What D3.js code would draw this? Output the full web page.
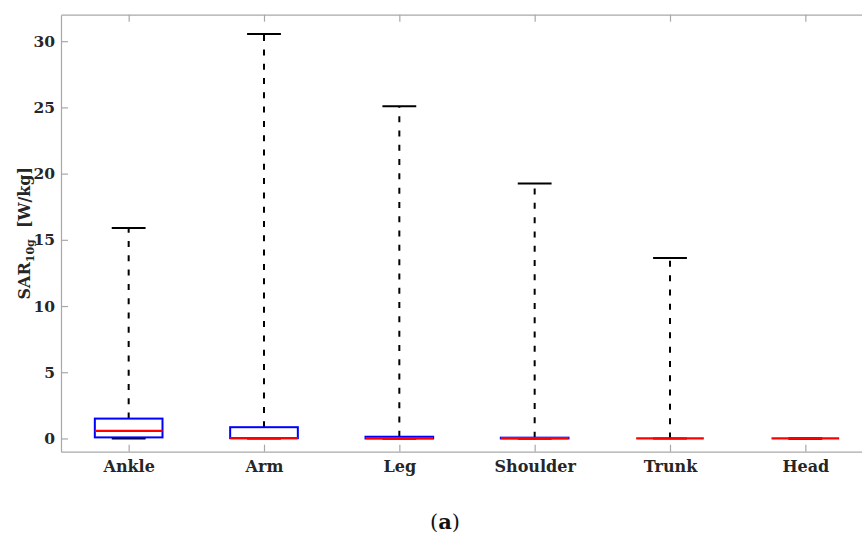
<!DOCTYPE html>
<html>
<head>
<meta charset="utf-8">
<script src="https://cdn.jsdelivr.net/npm/d3@7"></script>
<style>
  html, body { margin: 0; padding: 0; background: #fff; }
  svg { display: block; }
</style>
</head>
<body>
<svg id="chart" width="862" height="535"></svg>
<script>
// ---- data ----
const categories = ["Ankle", "Arm", "Leg", "Shoulder", "Trunk", "Head"];
const lowerWhisker = [0, 0, 0, 0, 0, 0];
const q1 = [0.08, 0.02, 0.0, 0.0, 0.0, 0.0];
const median = [0.57, 0.03, 0.02, 0.02, 0.0, 0.0];
const q3 = [1.5, 0.85, 0.13, 0.06, 0.0, 0.0];
const upperWhisker = [15.9, 30.55, 25.08, 19.25, 13.63, 0.0];
const yTicks = [0, 5, 10, 15, 20, 25, 30];

// ---- layout ----
const svg = d3.select("#chart");
const mLeft = 61, mRight = 873, mTop = 14.7, mBottom = 451.7;
const x = d3.scaleLinear().domain([0.5, categories.length + 0.5]).range([mLeft, mRight]);
const y = d3.scaleLinear().domain([-1, 32]).range([mBottom, mTop]);
const axisColor = "#a8a8a8";
const textColor = "#262626";
const font = "'DejaVu Serif', serif";

svg.append("rect").attr("width", 862).attr("height", 535).attr("fill", "#fff");

// axes
const gLeft = svg.append("g").attr("transform", `translate(${mLeft},0)`)
  .call(d3.axisLeft(y).tickValues(yTicks).tickSize(-7).tickSizeOuter(0).tickPadding(6));
const gRight = svg.append("g").attr("transform", `translate(${mRight},0)`)
  .call(d3.axisRight(y).tickValues(yTicks).tickSize(-7).tickSizeOuter(0).tickFormat(""));
const catIdx = categories.map((d, i) => i + 1);
const gBottom = svg.append("g").attr("transform", `translate(0,${mBottom})`)
  .call(d3.axisBottom(x).tickValues(catIdx).tickSize(-7).tickSizeOuter(0).tickPadding(9)
    .tickFormat(d => categories[d - 1]));
const gTop = svg.append("g").attr("transform", `translate(0,${mTop})`)
  .call(d3.axisTop(x).tickValues(catIdx).tickSize(-7).tickSizeOuter(0).tickFormat(""));

[gLeft, gRight, gBottom, gTop].forEach(g => {
  g.select(".domain").attr("stroke", axisColor).attr("stroke-width", 1.2);
  g.selectAll(".tick line").attr("stroke", axisColor).attr("stroke-width", 1.2);
  g.selectAll(".tick text").attr("fill", textColor).attr("font-family", font)
    .attr("font-weight", "bold");
});
gLeft.selectAll(".tick text").attr("font-size", 15.5);
gBottom.selectAll(".tick text").attr("font-size", 16);

// boxes
const data = categories.map((c, i) => ({
  i: i + 1, lo: lowerWhisker[i], q1: q1[i], med: median[i], q3: q3[i], hi: upperWhisker[i]
}));
const boxW = 0.5, capW = 0.25;
const g = svg.append("g");

// whiskers
g.selectAll(".wu").data(data).join("line")
  .attr("x1", d => x(d.i)).attr("x2", d => x(d.i))
  .attr("y1", d => y(d.q3)).attr("y2", d => y(d.hi))
  .attr("stroke", "#000").attr("stroke-width", 2).attr("stroke-dasharray", "6,8.3");
g.selectAll(".wl").data(data).join("line")
  .attr("x1", d => x(d.i)).attr("x2", d => x(d.i))
  .attr("y1", d => y(d.q1)).attr("y2", d => y(d.lo))
  .attr("stroke", "#000").attr("stroke-width", 2).attr("stroke-dasharray", "6,8.3");
// caps
["hi", "lo"].forEach(k => {
  g.selectAll(".cap-" + k).data(data).join("line")
    .attr("x1", d => x(d.i - capW / 2)).attr("x2", d => x(d.i + capW / 2))
    .attr("y1", d => y(d[k])).attr("y2", d => y(d[k]))
    .attr("stroke", "#000").attr("stroke-width", 2);
});
// box
g.selectAll(".box").data(data).join("rect")
  .attr("x", d => x(d.i - boxW / 2))
  .attr("width", d => x(d.i + boxW / 2) - x(d.i - boxW / 2))
  .attr("y", d => y(d.q3))
  .attr("height", d => y(d.q1) - y(d.q3))
  .attr("fill", "none").attr("stroke", "#0000ff").attr("stroke-width", 2);
// median
g.selectAll(".med").data(data).join("line")
  .attr("x1", d => x(d.i - boxW / 2)).attr("x2", d => x(d.i + boxW / 2))
  .attr("y1", d => y(d.med)).attr("y2", d => y(d.med))
  .attr("stroke", "#ff0000").attr("stroke-width", 2.2);

// y label
const yl = svg.append("text")
  .attr("transform", `translate(30,${(mTop + mBottom) / 2}) rotate(-90)`)
  .attr("text-anchor", "middle")
  .attr("font-family", font).attr("font-weight", "bold").attr("font-size", 16)
  .attr("fill", textColor);
yl.append("tspan").text("SAR");
yl.append("tspan").attr("font-size", 11).attr("dy", 4).text("10g");
yl.append("tspan").attr("dy", -4).text("\u00a0\u00a0[W/kg]");

// caption
const cap = svg.append("text")
  .attr("x", 445).attr("y", 529).attr("text-anchor", "middle")
  .attr("font-family", font).attr("font-size", 21).attr("fill", "#111");
cap.append("tspan").text("(");
cap.append("tspan").attr("font-weight", "bold").text("a");
cap.append("tspan").text(")");
</script>
</body>
</html>
